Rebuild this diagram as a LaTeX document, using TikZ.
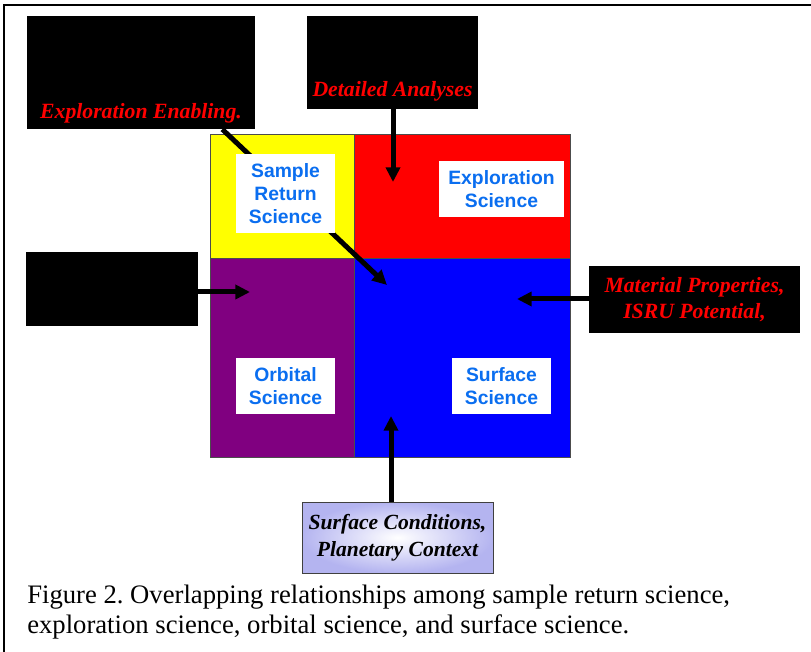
\documentclass[tikz,border=0pt]{standalone}
\usepackage{fontspec}
\setmainfont{Liberation Serif}
\setsansfont{Liberation Sans}
\usetikzlibrary{arrows.meta,calc}
\definecolor{sciblue}{RGB}{10,110,240}
\definecolor{quadyellow}{RGB}{255,255,0}
\definecolor{quadred}{RGB}{255,0,0}
\definecolor{quadpurple}{RGB}{128,0,128}
\definecolor{quadblue}{RGB}{0,0,255}
\definecolor{lavbox}{RGB}{180,180,240}
\NewDocumentCommand\DrawQuad{mmmmm}%
{%
\fill[#1] (#2,#3) rectangle (#4,#5);%
}
\tikzset{
  blackbox/.style={fill=black,inner sep=0pt},
  redtext/.style={text=red,font=\fontsize{16.3}{19}\selectfont\bfseries\itshape,align=center,inner sep=0pt},
  scilabel/.style={fill=white,inner sep=0pt,text=sciblue,align=center,
    font=\fontsize{14.5}{17.3}\selectfont\sffamily\bfseries},
  arr/.style={line width=3.75pt,-{Triangle[width=10.5pt,length=11pt]}}
}

\begin{document}
\frenchspacing
\begin{tikzpicture}[x=0.75pt,y=-0.75pt]
\useasboundingbox (0,0) rectangle (811,652);
\draw[line width=1.5pt] (4,652) -- (4,5.5) -- (811,5.5);
% the four fields
\DrawQuad{quadyellow}{210}{135}{354}{259}
\DrawQuad{quadred}{354}{135}{570}{259}
\DrawQuad{quadpurple}{210}{259}{354}{457}
\DrawQuad{quadblue}{354}{259}{570}{457}
\draw[black!70,line width=0.75pt] (210,135) rectangle (570,457);
\draw[black!70,line width=0.75pt] (354,135) -- (354,457);
\draw[black!70,line width=0.75pt] (210,259) -- (570,259);

\node[blackbox,minimum width=171pt,minimum height=84.75pt] (exbox) at (141,72.5) {};
\node[redtext,anchor=base] (extxt) at (141,119) {Exploration Enabling.};
\node[blackbox,minimum width=128.25pt,minimum height=69.75pt] (dabox) at (392.5,62.5) {};
\node[redtext,anchor=base] (datxt) at (392.5,97) {Detailed Analyses};
\node[blackbox,minimum width=129pt,minimum height=55.5pt] (leftbox) at (112,289) {};
\node[blackbox,redtext,minimum width=158.25pt,minimum height=50.25pt] (matbox) at (694.5,299.5)
  {Material Properties,\\ISRU Potential,};
\node[draw=black!75,line width=0.75pt,shading=radial,inner color=white,outer color=lavbox,
  minimum width=143.25pt,minimum height=53.25pt,align=center,inner sep=0pt,
  font=\fontsize{16.2}{20}\selectfont\bfseries\itshape] (condbox) at (397.5,537.5)
  {Surface Conditions,\\Planetary Context};

\coordinate (tipA) at (393,182);
\coordinate (tipB) at (387,285);
\coordinate (tipC) at (250,292);
\coordinate (tipD) at (517,299);
\coordinate (tipE) at (391,416);
\draw[arr] (dabox.south -| tipA) -- (tipA);
\draw[arr] ($(exbox.south east)+(-33,0)$) -- (tipB);
\draw[arr] (leftbox.east |- tipC) -- (tipC);
\draw[arr] (matbox.west |- tipD) -- (tipD);
\draw[arr] (condbox.north -| tipE) -- (tipE);
%\draw[arr] (condbox.north) -- (tipE);

\node[scilabel,minimum width=74.25pt,minimum height=59.25pt] (srsci) at (285.5,193.5) {Sample\\Return\\Science};
\node[scilabel,minimum width=93.75pt,minimum height=42pt] (exsci) at (501.5,189) {Exploration\\Science};
\node[scilabel,minimum width=74.25pt,minimum height=42pt] (orsci) at (285.5,386) {Orbital\\Science};
\node[scilabel,minimum width=74.25pt,minimum height=42pt] (susci) at (501.5,386) {Surface\\Science};

\node[anchor=base west,align=left,inner sep=0pt,font=\fontsize{20}{22.5}\selectfont] (caption) at (27,633)
  {Figure 2. Overlapping relationships among sample return science,\\exploration science, orbital science, and surface science.};
\end{tikzpicture}
\end{document}
